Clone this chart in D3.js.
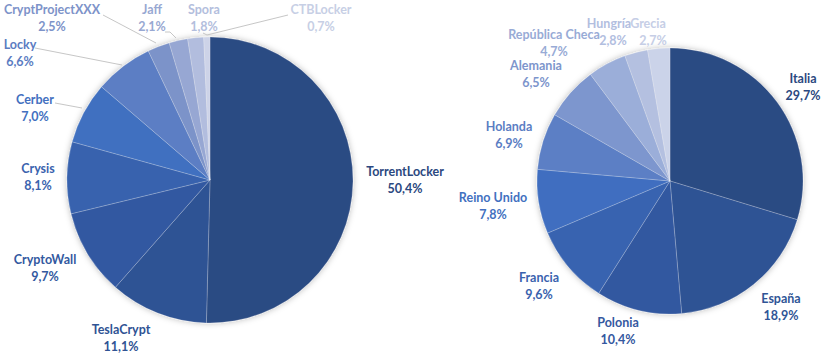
<!DOCTYPE html>
<html>
<head>
<meta charset="utf-8">
<script src="https://cdn.jsdelivr.net/npm/d3@7"></script>
<style>
  html, body { margin: 0; padding: 0; background: #ffffff; }
  svg { display: block; }
  text { font-family: Lato, "Open Sans", sans-serif; font-weight: 700; }
</style>
</head>
<body>
<svg id="chart" width="822" height="359"></svg>
<script>
// ---- Data ----
const ransomwareNames = ["TorrentLocker", "TeslaCrypt", "CryptoWall", "Crysis", "Cerber", "Locky", "CryptProjectXXX", "Jaff", "Spora", "CTBLocker"];
const ransomwareValues = [50.4, 11.1, 9.7, 8.1, 7.0, 6.6, 2.5, 2.1, 1.8, 0.7];

const countryNames = ["Italia", "España", "Polonia", "Francia", "Reino Unido", "Holanda", "Alemania", "República Checa", "Hungría", "Grecia"];
const countryValues = [29.7, 18.9, 10.4, 9.6, 7.8, 6.9, 6.5, 4.7, 2.8, 2.7];

// ---- Styles / layout ----
const sliceColors = ["#2c4b83", "#2f5394", "#3359a1", "#3762ae", "#4070c0", "#5b7ec4", "#7c93c9", "#97a7d3", "#b2bdde", "#cdd3e8"];
const rightColors = ["#2c4b83", "#2f5394", "#3358a0", "#3863b0", "#3f6ec0", "#5b7fc5", "#7d96ce", "#9baed9", "#b4c0e0", "#cbd3e9"];
const textColorsL = ["#2b4880", "#2f5394", "#3359a0", "#3a63ae", "#4370c0", "#5b7cc2", "#7d93c9", "#98a8d2", "#b3bedd", "#c7cfe5"];
const textColorsR = ["#2b4880", "#2f5596", "#3558a0", "#3a62ae", "#4270c0", "#5b7dc3", "#7d95cc", "#98abd6", "#b2bedf", "#c6cee6"];

const leftPie = { cx: 210, cy: 180, r: 143 };
const rightPie = { cx: 670, cy: 181, r: 133 };

// label layout: [x, y of name centre, pct x offset]
const leftLabelPos = [[405,172,0],[121,330,0],[45,260,0],[38,169,0],[35,100,0],[20,45,0],[52,10,0],[152,10,0],[204,10,0],[321,10,0]];
const rightLabelPos = [[803,79,0],[781,299,0],[618,323,0],[539,278,0],[493,198,0],[509,127,0],[536,66,0],[554,35,0],[609,24,4],[648,24,5]];
const leftLeaders = [null,null,null,null,
  [[55,103],[82,108]],
  [[35,48],[122,65]],
  [[103,15],[156,43]],
  [[165,32],[170,32],[176,38]],
  [[203,33],[207,35]],
  [[288,15],[207,35]]];

const svg = d3.select("#chart");

const defs = svg.append("defs");
const f = defs.append("filter").attr("id", "shadow").attr("x", "-20%").attr("y", "-20%").attr("width", "140%").attr("height", "140%");
f.append("feDropShadow").attr("dx", 0).attr("dy", 0).attr("stdDeviation", 3)
  .attr("flood-color", "#000").attr("flood-opacity", 0.28);

function drawPie(names, values, geom, colors, tcolors, labelPos, leaders) {
  const pie = d3.pie().sort(null).value(d => d)(values);
  const arc = d3.arc().innerRadius(0).outerRadius(geom.r);
  const g = svg.append("g").attr("transform", `translate(${geom.cx},${geom.cy})`);
  g.append("g").attr("filter", "url(#shadow)")
    .selectAll("path").data(pie).join("path")
    .attr("d", arc)
    .attr("fill", (d, i) => colors[i])
    .attr("stroke", "rgba(255,255,255,0.35)")
    .attr("stroke-width", 0.6);

  if (leaders) {
    const line = d3.line();
    svg.append("g").selectAll("path").data(leaders.filter(l => l)).join("path")
      .attr("d", d => line(d))
      .attr("fill", "none")
      .attr("stroke", "#bfbfbf")
      .attr("stroke-width", 0.9);
  }

  const lg = svg.append("g");
  names.forEach((n, i) => {
    const [x, y, dx] = labelPos[i];
    lg.append("text").attr("x", x).attr("y", y).attr("dy", "0.35em")
      .attr("text-anchor", "middle").attr("font-size", 12.5)
      .attr("fill", tcolors[i]).text(n);
    lg.append("text").attr("x", x + dx).attr("y", y + 17).attr("dy", "0.35em")
      .attr("text-anchor", "middle").attr("font-size", 12.5)
      .attr("fill", tcolors[i]).text(d3.format(".1f")(values[i]).replace(".", ",") + "%");
  });
}

drawPie(ransomwareNames, ransomwareValues, leftPie, sliceColors, textColorsL, leftLabelPos, leftLeaders);
drawPie(countryNames, countryValues, rightPie, rightColors, textColorsR, rightLabelPos, null);
</script>
</body>
</html>
